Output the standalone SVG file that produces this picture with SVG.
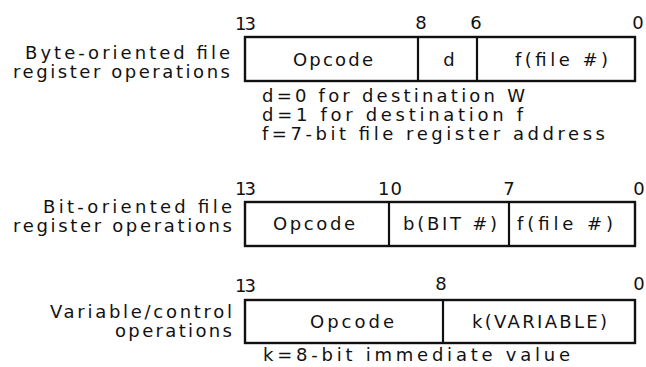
<svg xmlns="http://www.w3.org/2000/svg" width="646" height="367" viewBox="0 0 646 367">
<style>
text{font-family:"DejaVu Sans","Liberation Sans",sans-serif;font-size:18px;fill:#111}
.box{fill:#fff;stroke:#111;stroke-width:2.4}
.div{stroke:#111;stroke-width:2.2}
.m{text-anchor:middle}
</style>
<rect width="646" height="367" fill="#fff"/>
<g id="byte-oriented">
  <text x="25" y="59" textLength="205">Byte-oriented file</text>
  <text x="13" y="78" textLength="217">register operations</text>
  <text x="235" y="30" textLength="21">13</text>
  <text x="421" y="29" class="m">8</text>
  <text x="476" y="29" class="m">6</text>
  <text x="638" y="29" class="m">0</text>
  <rect class="box" x="245" y="37" width="390" height="44"/>
  <line class="div" x1="418" y1="37" x2="418" y2="81"/>
  <line class="div" x1="477" y1="37" x2="477" y2="81"/>
  <text x="293" y="66" textLength="80">Opcode</text>
  <text x="449" y="66" class="m">d</text>
  <text x="515" y="66" textLength="93">f(file #)</text>
  <text x="262" y="102" textLength="263">d=0 for destination W</text>
  <text x="262" y="121" textLength="261">d=1 for destination f</text>
  <text x="262" y="140" textLength="343">f=7-bit file register address</text>
</g>
<g id="bit-oriented">
  <text x="43" y="213" textLength="189">Bit-oriented file</text>
  <text x="13" y="232" textLength="219">register operations</text>
  <text x="235" y="195" textLength="21">13</text>
  <text x="378" y="195" textLength="24">10</text>
  <text x="509" y="195" class="m">7</text>
  <text x="639" y="195" class="m">0</text>
  <rect class="box" x="245" y="202" width="390" height="44"/>
  <line class="div" x1="389" y1="202" x2="389" y2="246"/>
  <line class="div" x1="509" y1="202" x2="509" y2="246"/>
  <text x="273" y="230" textLength="82">Opcode</text>
  <text x="403" y="230" textLength="94">b(BIT #)</text>
  <text x="517" y="230" textLength="96">f(file #)</text>
</g>
<g id="variable-control">
  <text x="50" y="318" textLength="182">Variable/control</text>
  <text x="115" y="337" textLength="117">operations</text>
  <text x="235" y="292" textLength="21">13</text>
  <text x="441" y="290" class="m">8</text>
  <text x="639" y="290" class="m">0</text>
  <rect class="box" x="245" y="300" width="390" height="43"/>
  <line class="div" x1="443" y1="300" x2="443" y2="343"/>
  <text x="310" y="328" textLength="84">Opcode</text>
  <text x="472" y="328" textLength="135">k(VARIABLE)</text>
  <text x="263" y="361" textLength="307">k=8-bit immediate value</text>
</g>
</svg>
